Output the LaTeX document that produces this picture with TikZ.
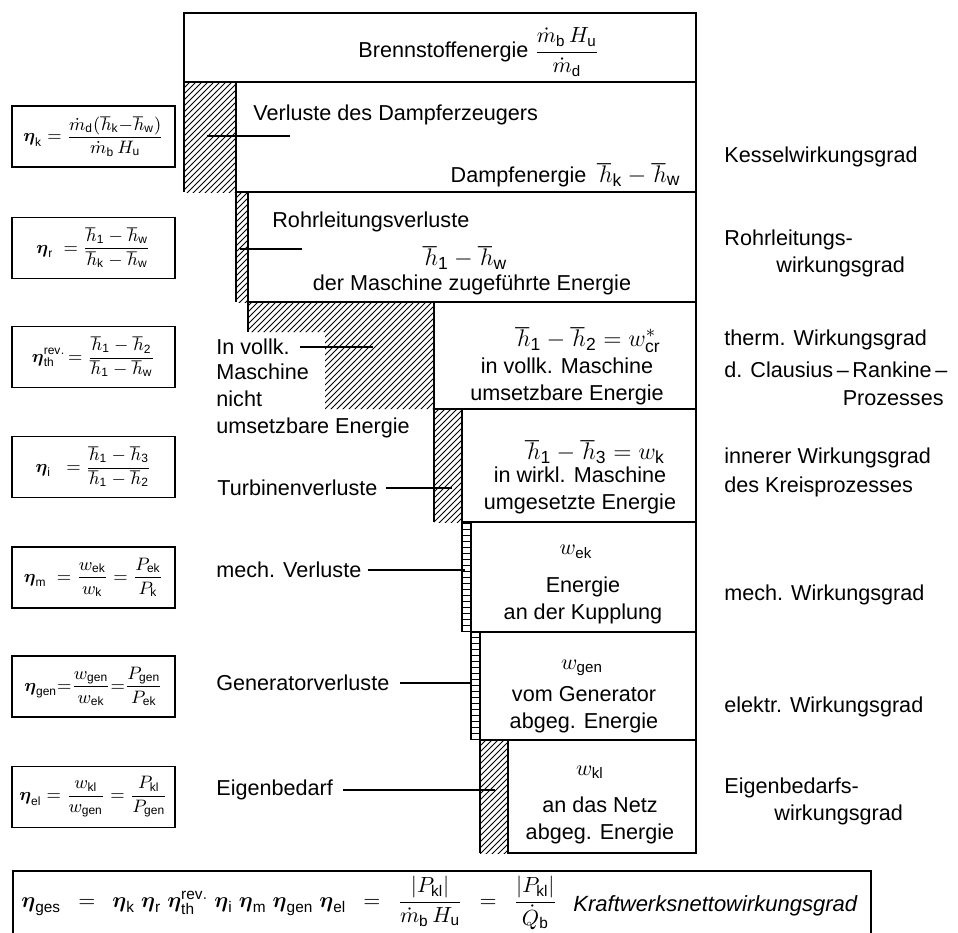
\documentclass[tikz,border=0pt]{standalone}
\usepackage{amsmath}
\usepackage{fontspec}
\setmainfont{Liberation Sans}
\usetikzlibrary{patterns}

\newcommand{\wgrad}[1]{\boldsymbol{\eta}_{\mathrm{#1}}}
\newcommand{\enth}[1]{\hbar_{\mathrm{#1}}}
\newcommand{\grossmath}{\fontsize{12.5}{14}\selectfont}

\begin{document}
\begin{tikzpicture}[x=0.5pt,y=-0.5pt,
  txt/.style={font=\fontsize{10.8}{13.5}\selectfont,inner sep=0pt},
  formel/.style={draw,line width=0.9pt,minimum width=81.5pt,minimum height=30.5pt,inner sep=1pt,font=\fontsize{9}{11}\selectfont},
  stufe/.style={draw,line width=0.9pt,fill=white},
  schraffur/.style={pattern=north east lines},
  leiter/.style={pattern=horizontal lines},
  kante/.style={line width=0.9pt},
  zeiger/.style={line width=0.6pt}
]
  \useasboundingbox (0,0) rectangle (958,932);

  % Verluste (schraffiert)
  \fill[schraffur] (184,82) rectangle (236,192);
  \fill[schraffur] (236,192) rectangle (248,302);
  \fill[schraffur] (248,302) -- (434,302) -- (434,409) -- (325,409) -- (325,332) -- (248,332) -- cycle;
  \fill[schraffur] (434,409) rectangle (462,522);
  \fill[leiter] (462,522) rectangle (471,632);
  \fill[leiter] (471,632) rectangle (480,740);
  \fill[schraffur] (480,740) rectangle (508,853);
  \draw[kante] (184,82) -- (184,192);
  \draw[kante] (236,192) -- (236,302);
  \draw[kante] (248,302) -- (248,332);
  \draw[kante] (434,409) -- (434,522);
  \draw[kante] (462,522) -- (462,632);
  \draw[kante] (471,632) -- (471,740);
  \draw[kante] (480,740) -- (480,853);

  % Energiestufen
  \draw[stufe] (184,13) rectangle (696,82);
  \draw[stufe] (236,82) rectangle (696,192);
  \draw[stufe] (248,192) rectangle (696,302);
  \draw[stufe] (434,302) rectangle (696,409);
  \draw[stufe] (462,409) rectangle (696,522);
  \draw[stufe] (471,522) rectangle (696,632);
  \draw[stufe] (480,632) rectangle (696,740);
  \draw[stufe] (508,740) rectangle (696,853);

  % Texte in den Stufen
  \node[txt,anchor=west] (brenn) at (358,52) {Brennstoffenergie $\dfrac{\dot m_\mathrm{b}\,H_\mathrm{u}}{\dot m_\mathrm{d}}$};
  \node[txt,anchor=west] (vdampf) at (253,115) {Verluste des Dampferzeugers};
  \node[txt,anchor=east] (dampfen) at (681,175) {Dampfenergie\enspace{\grossmath$\enth{k}-\enth{w}$}};
  \node[txt,anchor=west] (rohrv) at (272,222) {Rohrleitungsverluste};
  \node[txt] (rohrh) at (465,258) {\grossmath$\enth{1}-\enth{w}$};
  \node[txt] (rohre) at (472,285) {der Maschine zugeführte Energie};
  \node[txt] (vollkh) at (588,340) {\grossmath$\enth{1}-\enth{2}=w^*_\mathrm{cr}$};
  \node[txt,align=center] (vollke) at (567,381) {in vollk. Maschine\\umsetzbare Energie};
  \node[txt] (wirklh) at (595,452) {\grossmath$\enth{1}-\enth{3}=w_\mathrm{k}$};
  \node[txt,align=center] (wirkle) at (580,490) {in wirkl. Maschine\\umgesetzte Energie};
  \node[txt] (wek) at (576,552) {$w_\mathrm{ek}$};
  \node[txt,align=center] (kuppl) at (583,600) {Energie\\an der Kupplung};
  \node[txt] (wgen) at (582,668) {$w_\mathrm{gen}$};
  \node[txt,align=center] (genab) at (584,710) {vom Generator\\abgeg. Energie};
  \node[txt] (wkl) at (590,772) {$w_\mathrm{kl}$};
  \node[txt,align=center] (netz) at (600,820) {an das Netz\\abgeg. Energie};

  % Verlusttexte links
  \node[txt,anchor=west] (vollk) at (216,347) {In vollk.};
  \node[txt,anchor=west,align=left] (nichtum) at (216,401) {Maschine\\nicht\\umsetzbare Energie};
  \node[txt,anchor=west] (turb) at (217,488) {Turbinenverluste};
  \node[txt,anchor=west] (mechv) at (216,570) {mech. Verluste};
  \node[txt,anchor=west] (genv) at (216,683) {Generatorverluste};
  \node[txt,anchor=west] (eigen) at (216,790) {Eigenbedarf};

  % Hinweislinien
  \coordinate (vd1) at (207,136);
  \coordinate (vd2) at (290,136);
  \coordinate (rv1) at (240,249);
  \coordinate (rv2) at (302,249);
  \coordinate (vk) at (373,347);
  \coordinate (tv) at (452,488);
  \coordinate (mv) at (465,570);
  \coordinate (gv) at (471,683);
  \coordinate (ev) at (495,790);
  \draw[zeiger] (vd1) -- (vd2);
  \draw[zeiger] (rv1) -- (rv2);
  \draw[zeiger,shorten <=5pt] (vollk.east) -- (vk);
  \draw[zeiger,shorten <=4pt] (turb.east) -- (tv);
  \draw[zeiger,shorten <=3pt] (mechv.east) -- (mv);
  \draw[zeiger,shorten <=5pt] (genv.east) -- (gv);
  \draw[zeiger,shorten <=5pt] (eigen.east) -- (ev);

  % Wirkungsgrade links
  \node[formel] (etak) at (93.5,136.5) {$\wgrad{k}=\dfrac{\dot m_\mathrm{d}(\enth{k}{-}\enth{w})}{\dot m_\mathrm{b}\,H_\mathrm{u}}$};
  \node[formel] (etar) at (93.5,248) {$\wgrad{r}\;=\dfrac{\enth{1}-\enth{w}}{\enth{k}-\enth{w}}$};
  \node[formel] (etath) at (93.5,357) {$\wgrad{th}^{\mathrm{rev.}}\!=\dfrac{\enth{1}-\enth{2}}{\enth{1}-\enth{w}}$};
  \node[formel] (etai) at (93.5,467) {$\wgrad{i}\;\;=\dfrac{\enth{1}-\enth{3}}{\enth{1}-\enth{2}}$};
  \node[formel] (etam) at (93.5,577.5) {$\wgrad{m}\;=\dfrac{w_\mathrm{ek}}{w_\mathrm{k}}=\dfrac{P_\mathrm{ek}}{P_\mathrm{k}}$};
  \node[formel] (etagen) at (93.5,686.5) {$\wgrad{gen}{=}\dfrac{w_\mathrm{gen}}{w_\mathrm{ek}}{=}\dfrac{P_\mathrm{gen}}{P_\mathrm{ek}}$};
  \node[formel] (etael) at (93.5,797) {$\wgrad{el}=\dfrac{w_\mathrm{kl}}{w_\mathrm{gen}}=\dfrac{P_\mathrm{kl}}{P_\mathrm{gen}}$};

  % Wirkungsgrade rechts
  \node[txt,anchor=west] (kessel) at (724,157) {Kesselwirkungsgrad};
  \node[txt,anchor=west] (rohrwg) at (724,240) {Rohrleitungs-};
  \node[txt,anchor=west] (rohrwg2) at (776,267) {wirkungsgrad};
  \node[txt,anchor=west] (thermwg) at (724,340) {therm. Wirkungsgrad};
  \node[txt,anchor=west] (clausius) at (724,370) {d. Clausius\,--\,Rankine\,--};
  \node[txt,anchor=east] (prozess) at (944,398) {Prozesses};
  \node[txt,anchor=west] (innerwg) at (724,458) {innerer Wirkungsgrad};
  \node[txt,anchor=west] (kreis) at (724,487) {des Kreisprozesses};
  \node[txt,anchor=west] (mechwg) at (724,595) {mech. Wirkungsgrad};
  \node[txt,anchor=west] (elekwg) at (724,707) {elektr. Wirkungsgrad};
  \node[txt,anchor=west] (eigenwg) at (724,788) {Eigenbedarfs-};
  \node[txt,anchor=west] (eigenwg2) at (774,815) {wirkungsgrad};

  % Gesamtwirkungsgrad
  \draw[kante] (13,871) rectangle (871,950);
  \node[txt,anchor=west,font=\fontsize{11}{13}\selectfont] (etages) at (21,903)
    {$\wgrad{ges}\enspace=\enspace\wgrad{k}\;\wgrad{r}\;\wgrad{th}^{\mathrm{rev.}}\;\wgrad{i}\;\wgrad{m}\;\wgrad{gen}\;\wgrad{el}\enspace=\enspace\dfrac{|P_\mathrm{kl}|}{\dot m_\mathrm{b}\,H_\mathrm{u}}\enspace=\enspace\dfrac{|P_\mathrm{kl}|}{\dot Q_\mathrm{b}}$};
  \node[txt,anchor=west,font=\fontsize{11}{13}\itshape] (kwnetto) at (573,906) {Kraftwerksnettowirkungsgrad};
\end{tikzpicture}
\end{document}
